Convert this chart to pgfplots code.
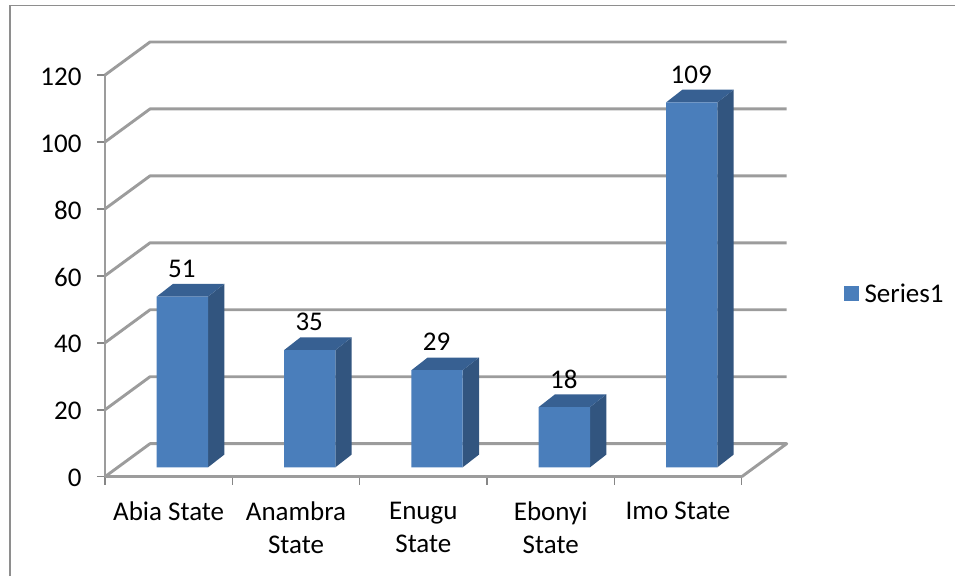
\documentclass[border=0pt]{standalone}
\usepackage{pgfplots}
\pgfplotsset{compat=1.18}
\usepackage{pgfplotstable}
\usepackage{fontspec}
\setmainfont{Carlito}
\definecolor{wall}{HTML}{9C9C9C}
\definecolor{tickgrey}{HTML}{868686}
\definecolor{framegrey}{HTML}{8E8E8E}
\definecolor{barfront}{HTML}{4A7EBB}
\definecolor{barside}{HTML}{32557F}
\definecolor{bartop}{HTML}{376092}
\newcommand{\chartfont}{\fontsize{27}{33}\selectfont}

% Reported count for each state, plotted at the middle of its category slot
\pgfplotstableread{
pos count
0.5 51
1.5 35
2.5 29
3.5 18
4.5 109
}\statecounts

\pgfplotsset{
  chartbox/.style={
    scale only axis, width=636.7pt, height=401.7pt,
    xmin=0, xmax=5, ymin=0, ymax=120, clip=false,
    anchor=south west,
    /pgf/number format/assume math mode=true,
  },
  wallline/.style={wall, line width=2.9pt, forget plot, line join=round},
}

\begin{document}
\begin{tikzpicture}
\useasboundingbox (0,0) rectangle (955pt,576pt);
% outer chart frame: only the left and top edges are inside the page
\draw[framegrey, line width=1.8pt] (10pt,0pt) -- (10pt,570.5pt) -- (955pt,570.5pt);

% walls, floor and axes
\begin{axis}[chartbox, at={(105pt,99.3pt)},
  axis x line=bottom, axis y line=left,
  axis line style={wall, line width=2.9pt, -},
  xtick={0,1,2,3,4,5}, xticklabels={},
  extra x ticks={0.5,1.5,2.5,3.5,4.5},
  extra x tick labels={Abia State,{Anambra\\State},{Enugu\\State},{Ebonyi\\State},Imo State},
  extra x tick style={major tick length=0pt,
    xticklabel style={font=\chartfont, align=center, text=black, anchor=north, yshift=-21.5pt}},
  ytick={0,20,40,60,80,100,120},
  yticklabel style={font=\chartfont, text=black, anchor=east, xshift=-12pt, yshift=-1.5pt},
  tick style={tickgrey, line width=1.5pt},
  major tick length=8pt, tick align=outside,
]
\addplot[wallline] coordinates {(0,0) (0.3535,9.86) (5.3535,9.86) (5,0)};
\addplot[wallline] coordinates {(0,20) (0.3535,29.86) (5.3535,29.86)};
\addplot[wallline] coordinates {(0,40) (0.3535,49.86) (5.3535,49.86)};
\addplot[wallline] coordinates {(0,60) (0.3535,69.86) (5.3535,69.86)};
\addplot[wallline] coordinates {(0,80) (0.3535,89.86) (5.3535,89.86)};
\addplot[wallline] coordinates {(0,100) (0.3535,109.86) (5.3535,109.86)};
\addplot[wallline] coordinates {(0,120) (0.3535,129.86) (5.3535,129.86)};
\end{axis}

% bars, standing a little behind the front edge of the floor
\begin{axis}[chartbox, at={(118.7pt,108.7pt)},
  axis lines=none,
  legend style={draw=none, fill=none, at={(844pt-118.7pt,282.5pt-108.7pt)}, anchor=west,
    font=\chartfont, inner sep=0pt, outer sep=0pt,
    legend cell align=left,
    /tikz/every even column/.append style={column sep=0pt}},
]
% right-hand faces
\addplot[fill=barside, draw=none, forget plot] coordinates {(0.7015,0) (0.8295,3.8) (0.8295,54.8) (0.7015,51)} -- cycle;
\addplot[fill=barside, draw=none, forget plot] coordinates {(1.7015,0) (1.8295,3.8) (1.8295,38.8) (1.7015,35)} -- cycle;
\addplot[fill=barside, draw=none, forget plot] coordinates {(2.7015,0) (2.8295,3.8) (2.8295,32.8) (2.7015,29)} -- cycle;
\addplot[fill=barside, draw=none, forget plot] coordinates {(3.7015,0) (3.8295,3.8) (3.8295,21.8) (3.7015,18)} -- cycle;
\addplot[fill=barside, draw=none, forget plot] coordinates {(4.7015,0) (4.8295,3.8) (4.8295,112.8) (4.7015,109)} -- cycle;
% top faces
\addplot[fill=bartop, draw=none, forget plot] coordinates {(0.2985,51) (0.7015,51) (0.8295,54.8) (0.4265,54.8)} -- cycle;
\addplot[fill=bartop, draw=none, forget plot] coordinates {(1.2985,35) (1.7015,35) (1.8295,38.8) (1.4265,38.8)} -- cycle;
\addplot[fill=bartop, draw=none, forget plot] coordinates {(2.2985,29) (2.7015,29) (2.8295,32.8) (2.4265,32.8)} -- cycle;
\addplot[fill=bartop, draw=none, forget plot] coordinates {(3.2985,18) (3.7015,18) (3.8295,21.8) (3.4265,21.8)} -- cycle;
\addplot[fill=bartop, draw=none, forget plot] coordinates {(4.2985,109) (4.7015,109) (4.8295,112.8) (4.4265,112.8)} -- cycle;
% front faces with their value labels
\addplot[ybar, bar width=51.3pt, bar shift=0pt, fill=barfront, draw=none,
  nodes near coords,
  every node near coord/.append style={font=\chartfont, text=black, anchor=center, xshift=-0.5pt, yshift=28pt},
  legend image code/.code={\fill[barfront] (0pt,-7.5pt) rectangle (15pt,7.5pt);},
] table[x=pos, y=count] {\statecounts};
\addlegendentry{\hspace{3.5pt}Series1}
\end{axis}
\end{tikzpicture}
\end{document}
